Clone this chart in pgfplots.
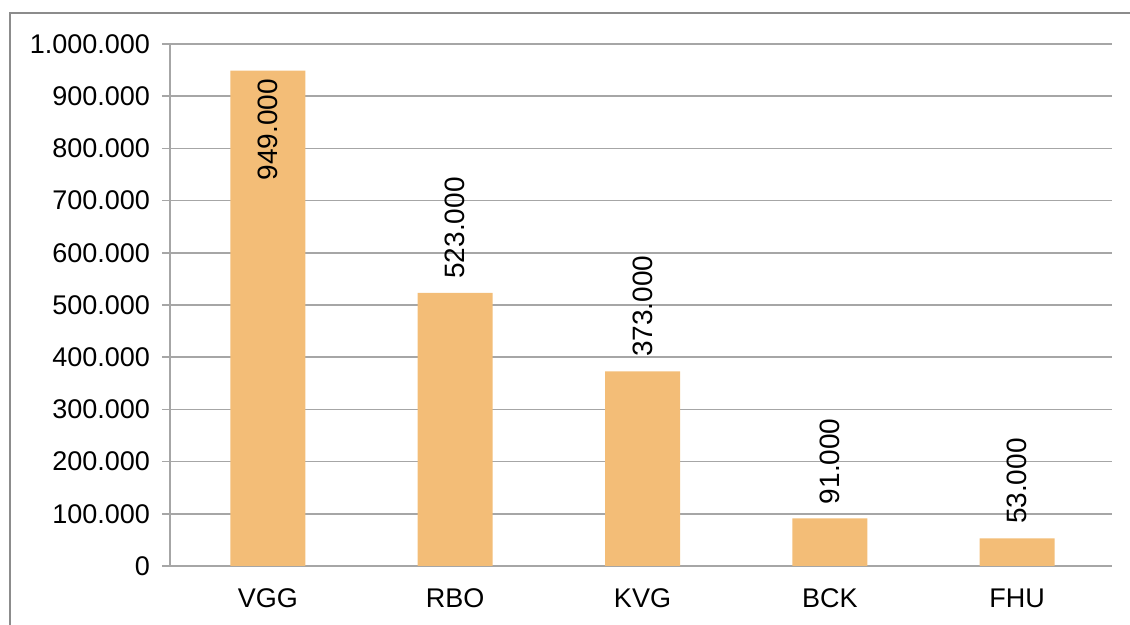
\documentclass[border=0pt]{standalone}
\usepackage{pgfplots}
\pgfplotsset{compat=1.18}
\usepackage{fontspec}
\setmainfont{Liberation Sans}
\definecolor{barfill}{HTML}{F3BD77}
\definecolor{gridgray}{HTML}{A6A6A6}
\definecolor{framegray}{HTML}{8C8C8C}
\begin{document}
\begin{tikzpicture}[x=0.5pt,y=0.5pt]
\useasboundingbox (0,0) rectangle (1130,625);
% outer chart frame
\draw[framegray,line width=1.2pt] (10,-10) -- (10,612) -- (1140,612);
\begin{axis}[
  at={(85pt,29.5pt)}, anchor=south west, scale only axis,
  width=471pt, height=261pt,
  xmin=-0.523, xmax=4.507, ymin=0, ymax=1000000,
  ybar, bar width=37.5pt,
  axis x line*=bottom, axis y line*=left,
  axis line style={gridgray, line width=0.75pt, -},
  ymajorgrids, grid style={gridgray, line width=0.75pt},
  ytick={0,100000,...,1000000},
  scaled y ticks=false,
  /pgf/number format/.cd, fixed, precision=0, 1000 sep={.}, assume math mode=true,
  /pgfplots/.cd,
  xtick=data, xticklabels={VGG,RBO,KVG,BCK,FHU},
  x tick style={draw=none},
  y tick style={gridgray, line width=0.75pt},
  tick align=outside, major tick length=4pt,
  tick label style={font=\fontsize{13.5}{16}\selectfont, text=black},
  xticklabel style={yshift=-4pt},
  yticklabel style={xshift=-2.5pt},
  visualization depends on={value \thisrow{lanchor} \as \labelanchor},
  visualization depends on={\thisrow{lsep} \as \labelsep},
  nodes near coords={\pgfmathprintnumber[fixed,precision=0,1000 sep={.},assume math mode=true]{\pgfplotspointmeta}},
  every node near coord/.append style={rotate=90, anchor=\labelanchor, inner xsep=\labelsep pt,
    font=\fontsize{14}{16}\selectfont, text=black},
]
% lanchor: west = label above the bar, east = label inside the bar top
\addplot[fill=barfill, draw=none] table[x=x, y=y, meta=y] {
  x  y       lanchor  lsep
  0  949000  east     4
  1  523000  west     7
  2  373000  west     7
  3  91000   west     7
  4  53000   west     7
};
\end{axis}
\end{tikzpicture}
\end{document}
